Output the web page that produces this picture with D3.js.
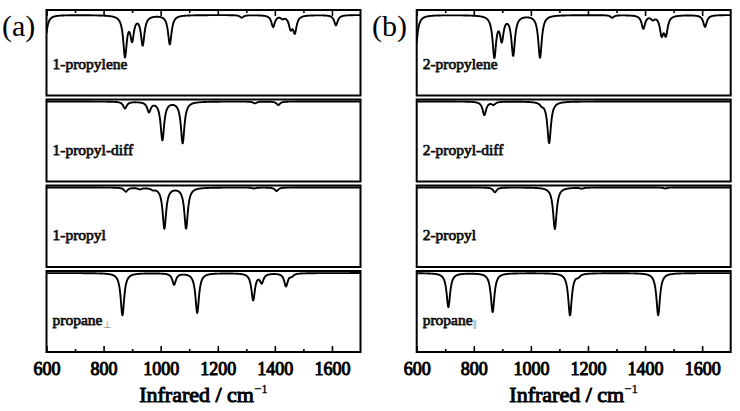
<!DOCTYPE html>
<html><head><meta charset="utf-8">
<script src="https://cdn.jsdelivr.net/npm/d3@7"></script>
<style>html,body{margin:0;padding:0;background:#fff;}svg{display:block;}
text{font-family:"Liberation Serif","DejaVu Serif",serif;}</style>
</head><body>
<script>
// ---------- DATA ----------
const xTicks = [600, 800, 1000, 1200, 1400, 1600];
const xMinor = [700, 900, 1100, 1300, 1500];
const panelLetters = ["(a)", "(b)"];
const namesA = ["1-propylene", "1-propyl-diff", "1-propyl", "propane"];
const namesB = ["2-propylene", "2-propyl-diff", "2-propyl", "propane"];
const subA = ["", "", "", "\u22A5"];
const subB = ["", "", "", "\u2225"];
// baseline level of each spectrum (fraction of panel height)
const baseA = [0.942, 0.976, 0.976, 0.975];
const baseB = [0.942, 0.976, 0.976, 0.975];
// peaks: [wavenumber (cm-1), depth (fraction of panel height)]
const peaks1Propylene = [[594,0.35],[875,0.47],[900,0.265],[937,0.34],[1032,0.34],[1284,0.03],[1394,0.135],[1427,0.03],[1455,0.14],[1470,0.19],[1614,0.12]];
const peaks1PropylDiff = [[875,0.083],[959,0.12],[1006,0.465],[1077,0.505],[1330,0.022],[1412,0.043]];
const peaks1Propyl = [[878,0.05],[927,0.018],[973,0.018],[1013,0.5],[1089,0.5],[1327,0.012],[1406,0.043]];
const peaksPropanePerp = [[866,0.52],[1047,0.14],[1128,0.49],[1324,0.33],[1354,0.11],[1439,0.16],[1459,0.03]];
const peaks2Propylene = [[594,0.54],[872,0.475],[898,0.27],[938,0.46],[1032,0.495],[1285,0.03],[1394,0.155],[1427,0.04],[1458,0.21],[1473,0.21],[1610,0.137]];
const peaks2PropylDiff = [[837,0.165],[869,0.035],[1038,0.03],[1064,0.505]];
const peaks2Propyl = [[874,0.058],[1084,0.51],[1178,0.012],[1470,0.012]];
const peaksPropanePar = [[711,0.42],[866,0.48],[1137,0.52],[1166,0.03],[1446,0.52]];
const lineHWHM = 7.5; // Lorentzian half width, cm-1

// ---------- LAYOUT ----------
const W = 740, H = 411;
const cols = [{x0: 46.5, x1: 360.5}, {x0: 416.7, x1: 730.7}];
const rows = [{t: 10, b: 95.5}, {t: 99.5, b: 181.5}, {t: 185.5, b: 267}, {t: 271, b: 352}];
const FONT = '"Liberation Serif", "DejaVu Serif", serif';

const svg = d3.select("body").append("svg").attr("width", W).attr("height", H);
const defs = svg.append("defs");

// serif text with a thin outline for a bold look
function boldify(sel, sw) {
  return sel.style("font-family", FONT).style("font-weight", "normal")
    .attr("stroke", "#000").attr("stroke-width", sw).attr("stroke-linejoin", "round")
    .attr("paint-order", "stroke");
}

const columns = [
  {names: namesA, subs: subA, bases: baseA, peaks: [peaks1Propylene, peaks1PropylDiff, peaks1Propyl, peaksPropanePerp]},
  {names: namesB, subs: subB, bases: baseB, peaks: [peaks2Propylene, peaks2PropylDiff, peaks2Propyl, peaksPropanePar]}
];

const grid = d3.range(600, 1700.5, 0.5);

function spectrum(peaks, base) {
  return grid.map(v => {
    let y = base;
    for (const [p, d] of peaks) {
      const u = (v - p) / lineHWHM;
      y -= d / (1 + u * u);
    }
    return [v, y];
  });
}

columns.forEach((col, ci) => {
  const x = d3.scaleLinear().domain([600, 1700]).range([cols[ci].x0, cols[ci].x1]);
  const g = svg.append("g");

  rows.forEach((r, ri) => {
    const y = d3.scaleLinear().domain([0, 1]).range([r.b, r.t]);
    const id = `clip${ci}${ri}`;
    defs.append("clipPath").attr("id", id).append("rect")
      .attr("x", x(600)).attr("y", r.t).attr("width", x(1700) - x(600)).attr("height", r.b - r.t);
    const line = d3.line().x(d => x(d[0])).y(d => y(d[1]));
    g.append("path").datum(spectrum(col.peaks[ri], col.bases[ri]))
      .attr("clip-path", `url(#${id})`)
      .attr("d", line).attr("fill", "none").attr("stroke", "#000")
      .attr("stroke-width", 1.9).attr("stroke-linejoin", "round");

    if (ri === 0) {
      const ax = d3.axisTop(x).tickValues(xTicks).tickSize(-6).tickFormat("");
      const gt = g.append("g").attr("transform", `translate(0,${r.t})`).call(ax);
      gt.select(".domain").remove();
      const axm = d3.axisTop(x).tickValues(xMinor).tickSize(-3).tickFormat("");
      const gm = g.append("g").attr("transform", `translate(0,${r.t})`).call(axm);
      gm.select(".domain").remove();
    }
    if (ri === rows.length - 1) {
      const ax = d3.axisBottom(x).tickValues(xTicks).tickSize(-6).tickFormat(d3.format("d"));
      const gb = g.append("g").attr("transform", `translate(0,${r.b})`).call(ax);
      gb.select(".domain").remove();
      gb.attr("font-family", null).attr("font-size", null);
      boldify(gb.selectAll("text"), 1.0).style("font-size", "18px")
        .attr("fill", "#000").attr("dy", null).attr("y", 23);
      const axm = d3.axisBottom(x).tickValues(xMinor).tickSize(-3).tickFormat("");
      const gm = g.append("g").attr("transform", `translate(0,${r.b})`).call(axm);
      gm.select(".domain").remove();
    }
    g.selectAll(".tick line").attr("stroke", "#000").attr("stroke-width", 1.6);

    g.append("rect").attr("x", x(600)).attr("y", r.t)
      .attr("width", x(1700) - x(600)).attr("height", r.b - r.t)
      .attr("fill", "none").attr("stroke", "#000").attr("stroke-width", 2);

    const t = boldify(g.append("text"), 0.75).attr("x", x(600) + 6).attr("y", r.b - 27)
      .style("font-size", "15.5px").attr("fill", "#111").attr("stroke", "#111")
      .text(col.names[ri]);
    if (col.subs[ri]) {
      t.append("tspan").attr("dy", 3).style("font-size", "10px")
        .attr("fill", "#999").attr("stroke", "none").text(col.subs[ri]);
    }
  });

  const title = boldify(g.append("text"), 1.0).attr("x", (cols[ci].x0 + cols[ci].x1) / 2).attr("y", 401.5)
    .attr("text-anchor", "middle").style("font-size", "22px").attr("fill", "#000");
  title.append("tspan").text("Infrared / cm");
  title.append("tspan").attr("dy", -9).style("font-size", "13px").attr("stroke-width", 0.3).text("\u22121");

  svg.append("text").attr("x", ci === 0 ? 2 : 372).attr("y", 36)
    .style("font-family", FONT).style("font-size", "30px")
    .attr("fill", "#000").text(panelLetters[ci]);
});
</script>
</body></html>
